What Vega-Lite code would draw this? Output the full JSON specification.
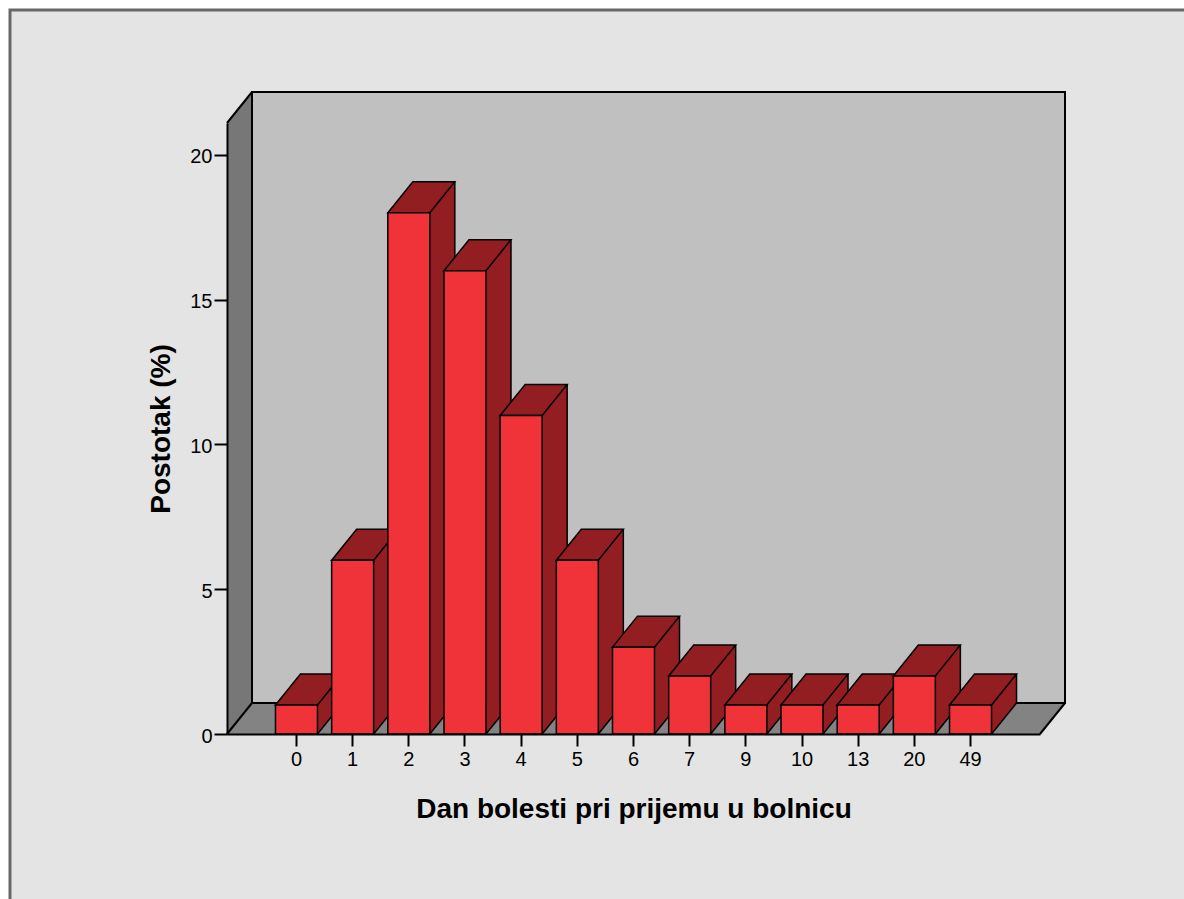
{
  "$schema": "https://vega.github.io/schema/vega-lite/v6.json",
  "width": 1174,
  "height": 889,
  "autosize": {"type": "none"},
  "padding": {"left": 10, "top": 10, "right": 0, "bottom": 0},
  "background": "#ffffff",
  "config": {"view": {"stroke": null}, "font": "Liberation Sans"},
  "datasets": {
    "bars": [
      {"dan": "0", "postotak": 1},
      {"dan": "1", "postotak": 6},
      {"dan": "2", "postotak": 18},
      {"dan": "3", "postotak": 16},
      {"dan": "4", "postotak": 11},
      {"dan": "5", "postotak": 6},
      {"dan": "6", "postotak": 3},
      {"dan": "7", "postotak": 2},
      {"dan": "9", "postotak": 1},
      {"dan": "10", "postotak": 1},
      {"dan": "13", "postotak": 1},
      {"dan": "20", "postotak": 2},
      {"dan": "49", "postotak": 1}
    ],
    "one": [{}]
  },
  "resolve": {"scale": {"x": "independent", "y": "independent"}},
  "layer": [
    {
      "data": {"name": "one"},
      "mark": {"type": "rect", "fill": "#e4e4e4", "stroke": "#686868", "strokeWidth": 3, "opacity": 1},
      "encoding": {
        "x": {"datum": 0, "type": "quantitative", "scale": {"domain": [0, 1]}, "axis": null},
        "x2": {"datum": 1.1},
        "y": {"datum": 1, "type": "quantitative", "scale": {"domain": [0, 1]}, "axis": null},
        "y2": {"datum": -0.1}
      }
    },
    {
      "resolve": {"scale": {"x": "independent"}},
      "layer": [
        {
          "data": {"name": "one"},
          "layer": [
            {
              "mark": {"type": "rect", "fill": "#777777", "strokeWidth": 0, "opacity": 1, "x2Offset": 25},
              "encoding": {
                "x": {"datum": 0, "type": "quantitative", "scale": {"domain": [0, 1], "range": [217, 1030]}, "axis": null},
                "x2": {"datum": 0},
                "y": {"datum": 0, "type": "quantitative", "scale": {"domain": [0, 21.1], "range": [724, 113], "nice": false, "zero": false}, "title": "Postotak (%)"},
                "y2": {"datum": 21.1}
              }
            },
            {
              "mark": {"type": "point", "shape": "M0,0 L25,-31 L25,0 Z", "size": 4, "filled": true, "fill": "#777777", "strokeWidth": 0, "opacity": 1},
              "encoding": {
                "x": {"datum": 0, "type": "quantitative", "scale": {"domain": [0, 1], "range": [217, 1030]}, "axis": null},
                "y": {"datum": 21.1, "type": "quantitative", "scale": {"domain": [0, 21.1], "range": [724, 113], "nice": false, "zero": false}, "title": "Postotak (%)"}
              }
            },
            {
              "mark": {"type": "rect", "fill": "#838383", "strokeWidth": 0, "opacity": 1, "xOffset": 25, "y2Offset": -31},
              "encoding": {
                "x": {"datum": 0, "type": "quantitative", "scale": {"domain": [0, 1], "range": [217, 1030]}, "axis": null},
                "x2": {"datum": 1},
                "y": {"datum": 0, "type": "quantitative", "scale": {"domain": [0, 21.1], "range": [724, 113], "nice": false, "zero": false}, "title": "Postotak (%)"},
                "y2": {"datum": 0}
              }
            },
            {
              "mark": {"type": "point", "shape": "M0,0 L25,-31 L25,0 Z", "size": 4, "filled": true, "fill": "#838383", "strokeWidth": 0, "opacity": 1},
              "encoding": {
                "x": {"datum": 0, "type": "quantitative", "scale": {"domain": [0, 1], "range": [217, 1030]}, "axis": null},
                "y": {"datum": 0, "type": "quantitative", "scale": {"domain": [0, 21.1], "range": [724, 113], "nice": false, "zero": false}, "title": "Postotak (%)"}
              }
            },
            {
              "mark": {"type": "point", "shape": "M0,0 L25,-31 L0,-31 Z", "size": 4, "filled": true, "fill": "#838383", "strokeWidth": 0, "opacity": 1},
              "encoding": {
                "x": {"datum": 1, "type": "quantitative", "scale": {"domain": [0, 1], "range": [217, 1030]}, "axis": null},
                "y": {"datum": 0, "type": "quantitative", "scale": {"domain": [0, 21.1], "range": [724, 113], "nice": false, "zero": false}, "title": "Postotak (%)"}
              }
            },
            {
              "mark": {"type": "rect", "fill": "#c0c0c0", "stroke": "#000000", "strokeWidth": 2, "opacity": 1, "xOffset": 25, "x2Offset": 25, "yOffset": -31, "y2Offset": -31},
              "encoding": {
                "x": {"datum": 0, "type": "quantitative", "scale": {"domain": [0, 1], "range": [217, 1030]}, "axis": null},
                "x2": {"datum": 1},
                "y": {"datum": 0, "type": "quantitative", "scale": {"domain": [0, 21.1], "range": [724, 113], "nice": false, "zero": false}, "title": "Postotak (%)"},
                "y2": {"datum": 21.1}
              }
            },
            {
              "mark": {"type": "rule", "stroke": "#000000", "strokeWidth": 2, "opacity": 1, "x2Offset": 25, "y2Offset": -31},
              "encoding": {
                "x": {"datum": 0, "type": "quantitative", "scale": {"domain": [0, 1], "range": [217, 1030]}, "axis": null},
                "x2": {"datum": 0},
                "y": {"datum": 21.1, "type": "quantitative", "scale": {"domain": [0, 21.1], "range": [724, 113], "nice": false, "zero": false}, "title": "Postotak (%)"},
                "y2": {"datum": 21.1}
              }
            },
            {
              "mark": {"type": "rule", "stroke": "#000000", "strokeWidth": 2, "opacity": 1, "x2Offset": 25, "y2Offset": -31},
              "encoding": {
                "x": {"datum": 0, "type": "quantitative", "scale": {"domain": [0, 1], "range": [217, 1030]}, "axis": null},
                "x2": {"datum": 0},
                "y": {"datum": 0, "type": "quantitative", "scale": {"domain": [0, 21.1], "range": [724, 113], "nice": false, "zero": false}, "title": "Postotak (%)"},
                "y2": {"datum": 0}
              }
            },
            {
              "mark": {"type": "rule", "stroke": "#000000", "strokeWidth": 2, "opacity": 1, "x2Offset": 25, "y2Offset": -31},
              "encoding": {
                "x": {"datum": 1, "type": "quantitative", "scale": {"domain": [0, 1], "range": [217, 1030]}, "axis": null},
                "x2": {"datum": 1},
                "y": {"datum": 0, "type": "quantitative", "scale": {"domain": [0, 21.1], "range": [724, 113], "nice": false, "zero": false}, "title": "Postotak (%)"},
                "y2": {"datum": 0}
              }
            }
          ]
        },
        {
          "data": {"name": "bars"},
          "encoding": {
            "x": {
              "field": "dan", "type": "ordinal", "sort": null,
              "scale": {"type": "band", "range": [217, 1030], "paddingInner": 0.2523, "paddingOuter": 0.863},
              "title": "Dan bolesti pri prijemu u bolnicu",
              "axis": {"offset": -165, "zindex": 1, "labelAngle": 0, "tickSize": 12, "tickWidth": 2, "tickColor": "#000000", "domainColor": "#000000", "domainWidth": 2, "labelFontSize": 20, "labelColor": "#000000", "labelPadding": 3, "labelFont": "Liberation Sans", "titleFont": "Liberation Sans", "titleFontSize": 28, "titleFontWeight": "bold", "titleColor": "#000000", "titlePadding": 26}
            },
            "y": {
              "field": "postotak", "type": "quantitative",
              "scale": {"domain": [0, 21.1], "range": [724, 113], "nice": false, "zero": false},
              "title": "Postotak (%)",
              "axis": {"values": [0, 5, 10, 15, 20], "offset": -217, "zindex": 1, "grid": false, "tickSize": 13, "tickWidth": 2, "tickColor": "#000000", "domainColor": "#000000", "domainWidth": 2, "labelFontSize": 20, "labelColor": "#000000", "labelPadding": 2, "labelOffset": 2, "labelFont": "Liberation Sans", "titleFont": "Liberation Sans", "titleFontSize": 28, "titleFontWeight": "bold", "titleColor": "#000000", "titlePadding": 14}
            }
          },
          "layer": [
            {
              "mark": {"type": "bar", "fill": "#931e22", "strokeWidth": 0, "opacity": 1, "xOffset": 25, "yOffset": -31, "y2Offset": -31},
              "encoding": {"y2": {"datum": 0}}
            },
            {
              "mark": {"type": "point", "shape": "M21,0 L46,-31 L21,-31 Z", "size": 4, "filled": true, "fill": "#931e22", "strokeWidth": 0, "opacity": 1},
              "encoding": {"y": {"datum": 0, "type": "quantitative", "scale": {"domain": [0, 21.1], "range": [724, 113], "nice": false, "zero": false}, "title": "Postotak (%)"}}
            },
            {
              "mark": {"type": "rule", "stroke": "#000000", "strokeWidth": 1.5, "opacity": 1, "xOffset": 46, "yOffset": -31, "y2Offset": -31},
              "encoding": {"y2": {"datum": 0}}
            },
            {
              "mark": {"type": "point", "shape": "M21,0 L46,-31", "size": 4, "filled": false, "stroke": "#000000", "strokeWidth": 1.5, "opacity": 1},
              "encoding": {"y": {"datum": 0, "type": "quantitative", "scale": {"domain": [0, 21.1], "range": [724, 113], "nice": false, "zero": false}, "title": "Postotak (%)"}}
            },
            {
              "mark": {"type": "point", "shape": "M-21,0 L21,0 L46,-31 L4,-31 Z", "size": 4, "filled": true, "fill": "#931e22", "stroke": "#000000", "strokeWidth": 1.5, "opacity": 1}
            },
            {
              "mark": {"type": "bar", "fill": "#ef3339", "stroke": "#000000", "strokeWidth": 1.5, "opacity": 1},
              "encoding": {"y2": {"datum": 0}}
            }
          ]
        }
      ]
    }
  ]
}
